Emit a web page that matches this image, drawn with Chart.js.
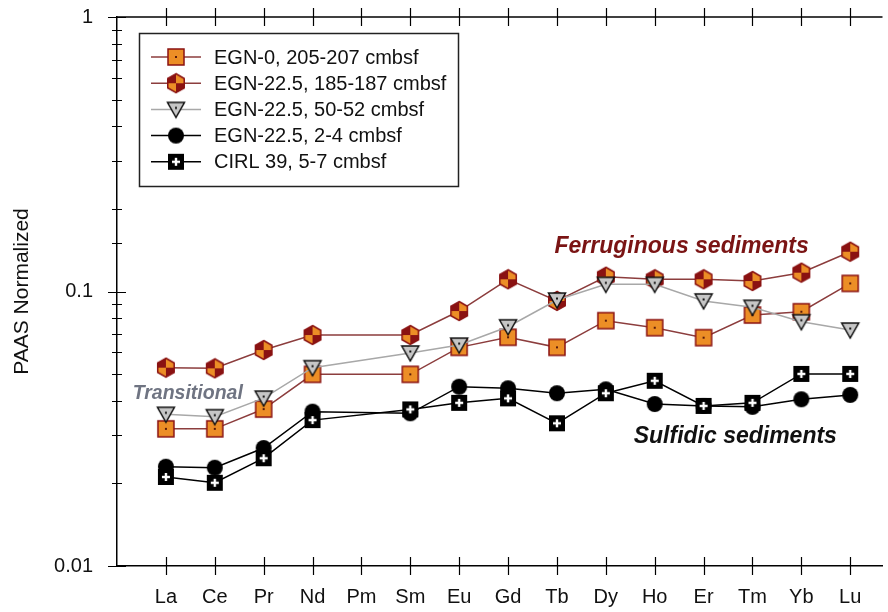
<!DOCTYPE html>
<html lang="en">
<head>
<meta charset="UTF-8">
<title>PAAS Normalized REE</title>
<script src="https://cdn.jsdelivr.net/npm/chart.js"></script>
<style>
  html, body { margin: 0; padding: 0; background: #fff; overflow: hidden; }
</style>
</head>
<body>
<canvas id="ree" width="888" height="612"></canvas>
<script>
// REE patterns, PAAS normalized (Pm has no data)
const elements = ['La', 'Ce', 'Pr', 'Nd', 'Pm', 'Sm', 'Eu', 'Gd', 'Tb', 'Dy', 'Ho', 'Er', 'Tm', 'Yb', 'Lu'];
const seriesNames = ['EGN-0, 205-207 cmbsf', 'EGN-22.5, 185-187 cmbsf', 'EGN-22.5, 50-52 cmbsf', 'EGN-22.5, 2-4 cmbsf', 'CIRL 39, 5-7 cmbsf'];
const egn0_205 = [0.0316, 0.0316, 0.0373, 0.0499, null, 0.0499, 0.0626, 0.0681, 0.0626, 0.0783, 0.0738, 0.0679, 0.0821, 0.0844, 0.107];
const egn225_185 = [0.0528, 0.0525, 0.0612, 0.0694, null, 0.0694, 0.0849, 0.1108, 0.0924, 0.1132, 0.1108, 0.1108, 0.1092, 0.1171, 0.1396];
const egn225_50 = [0.0357, 0.0350, 0.0409, 0.0528, null, 0.0597, 0.0638, 0.0744, 0.0931, 0.1062, 0.1062, 0.0924, 0.0876, 0.0776, 0.0724];
const egn225_2 = [0.0230, 0.0228, 0.0269, 0.0365, null, 0.0360, 0.0450, 0.0444, 0.0426, 0.0440, 0.0389, 0.0383, 0.0380, 0.0405, 0.0420];
const cirl39_5 = [0.0211, 0.0201, 0.0247, 0.0340, null, 0.0372, 0.0393, 0.0408, 0.0331, 0.0426, 0.0473, 0.0383, 0.0393, 0.0501, 0.0501];
const yLabels = [1, 0.1, 0.01];

const FONT = 'Arial, "Liberation Sans", sans-serif';
const ORANGE = '#ec8e26';
const DARKRED = '#8a1212';

// small canvases used as point styles
function marker(size, draw) {
  const c = document.createElement('canvas');
  c.width = size; c.height = size;
  draw(c.getContext('2d'), size / 2);
  return c;
}
const sqMark = marker(20, (g, c) => {
  g.fillStyle = ORANGE; g.fillRect(c - 8, c - 8, 16, 16);
  g.strokeStyle = DARKRED; g.lineWidth = 1.5; g.strokeRect(c - 8, c - 8, 16, 16);
  g.fillStyle = '#5a1a0a'; g.fillRect(c - 1, c - 1, 2, 2);
});
const hexMark = marker(22, (g, c) => {
  const r = 9.5;
  g.beginPath();
  for (let k = 0; k < 6; k++) {
    const a = -Math.PI / 2 + k * Math.PI / 3;
    g.lineTo(c + r * Math.cos(a), c + r * Math.sin(a));
  }
  g.closePath();
  g.save(); g.clip();
  g.fillStyle = ORANGE; g.fillRect(0, 0, 22, 22);
  g.fillStyle = DARKRED;
  g.fillRect(0, 0, c, c);
  g.fillRect(c, c, c, c);
  g.restore();
  g.strokeStyle = DARKRED; g.lineWidth = 1.5; g.stroke();
});
const triMark = marker(22, (g, c) => {
  g.beginPath();
  g.moveTo(c - 8.5, c - 7); g.lineTo(c + 8.5, c - 7); g.lineTo(c, c + 8); g.closePath();
  g.fillStyle = '#c6c6c6'; g.fill();
  g.strokeStyle = '#111'; g.lineWidth = 1.5; g.stroke();
  g.fillStyle = '#111'; g.fillRect(c - 1, c - 2.5, 2, 2);
});
const dotMark = marker(20, (g, c) => {
  g.beginPath(); g.arc(c, c, 8, 0, Math.PI * 2);
  g.fillStyle = '#000'; g.fill();
});
const crossMark = marker(20, (g, c) => {
  g.fillStyle = '#000'; g.fillRect(c - 8, c - 8, 16, 16);
  g.fillStyle = '#fff';
  g.fillRect(c - 1.2, c - 4, 2.4, 8);
  g.fillRect(c - 4, c - 1.2, 8, 2.4);
});

const styles = [
  { mark: sqMark, line: '#8c3d3d', order: 3 },
  { mark: hexMark, line: '#8c3d3d', order: 4 },
  { mark: triMark, line: '#a8a8a8', order: 1 },
  { mark: dotMark, line: '#000', order: 5 },
  { mark: crossMark, line: '#000', order: 2 }
];
const allSeries = [egn0_205, egn225_185, egn225_50, egn225_2, cirl39_5];

const datasets = allSeries.map((vals, s) => ({
  label: seriesNames[s],
  data: vals.map((v, i) => ({ x: i, y: v })),
  borderColor: styles[s].line,
  borderWidth: 1.5,
  pointStyle: styles[s].mark,
  order: styles[s].order,
  spanGaps: true,
  tension: 0
}));

const notes = [
  { text: 'Ferruginous sediments', x: 7.95, y: 0.138, color: '#7a1414', size: 23 },
  { text: 'Sulfidic sediments', x: 9.57, y: 0.0281, color: '#111', size: 23 },
  { text: 'Transitional', x: -0.68, y: 0.0406, color: '#6f7482', size: 19.5 }
];

// ticks crossing the axes, top frame line, legend and notes
const decorations = {
  id: 'decorations',
  afterDraw(chart) {
    const { ctx, chartArea: a, scales: { x, y } } = chart;
    ctx.save();
    ctx.strokeStyle = '#000';
    ctx.lineWidth = 1.5;
    ctx.beginPath(); ctx.moveTo(a.left, a.top); ctx.lineTo(a.right, a.top); ctx.stroke();

    ctx.lineWidth = 1.2;
    ctx.beginPath();
    elements.forEach((_, i) => {
      const px = Math.round(x.getPixelForValue(i)) + 0.5;
      ctx.moveTo(px, a.bottom - 9); ctx.lineTo(px, a.bottom + 9);
      ctx.moveTo(px, a.top - 9); ctx.lineTo(px, a.top + 9);
    });
    y.ticks.forEach(t => {
      const lg = Math.log10(t.value);
      const len = Math.abs(lg - Math.round(lg)) < 1e-6 ? 9 : 5;
      const py = Math.round(y.getPixelForValue(t.value)) + 0.5;
      ctx.moveTo(a.left - len, py); ctx.lineTo(a.left + len, py);
    });
    ctx.stroke();

    // legend
    ctx.lineWidth = 1.5;
    ctx.strokeStyle = '#222';
    ctx.strokeRect(139.5, 33.5, 319, 153);
    ctx.font = '20px ' + FONT;
    ctx.textBaseline = 'middle';
    ctx.textAlign = 'left';
    seriesNames.forEach((name, s) => {
      const ry = 57 + s * 26.2;
      ctx.strokeStyle = styles[s].line;
      ctx.beginPath(); ctx.moveTo(151, ry); ctx.lineTo(201, ry); ctx.stroke();
      const m = styles[s].mark;
      ctx.drawImage(m, 176 - m.width / 2, ry - m.height / 2);
      ctx.fillStyle = '#111';
      ctx.fillText(name, 214, ry + 1);
    });

    // notes
    ctx.textBaseline = 'alphabetic';
    notes.forEach(n => {
      ctx.font = 'italic bold ' + n.size + 'px ' + FONT;
      ctx.fillStyle = n.color;
      ctx.fillText(n.text, x.getPixelForValue(n.x), y.getPixelForValue(n.y));
    });
    ctx.restore();
  }
};

new Chart(document.getElementById('ree'), {
  type: 'line',
  data: { datasets },
  plugins: [decorations],
  options: {
    responsive: false,
    animation: false,
    events: [],
    layout: { padding: { top: 17, right: 0, bottom: 0, left: 0 } },
    plugins: { legend: { display: false }, tooltip: { enabled: false } },
    scales: {
      x: {
        type: 'linear',
        min: -1,
        max: 14.66,
        afterBuildTicks: s => { s.ticks = elements.map((_, i) => ({ value: i })); },
        afterFit: s => { s.height = 46; s.paddingLeft = 0; s.paddingRight = 0; },
        grid: { display: false, drawTicks: false },
        border: { display: true, color: '#000', width: 1.5 },
        ticks: {
          autoSkip: false,
          maxRotation: 0,
          padding: 19,
          color: '#111',
          font: { family: FONT, size: 20 },
          callback: v => (Number.isInteger(v) && elements[v]) ? elements[v] : ''
        }
      },
      y: {
        type: 'logarithmic',
        min: 0.01,
        max: 1,
        afterFit: s => { s.width = 117; s.paddingTop = 0; s.paddingBottom = 0; },
        grid: { display: false, drawTicks: false },
        border: { display: true, color: '#000', width: 1.5 },
        title: {
          display: true,
          text: 'PAAS Normalized',
          color: '#111',
          padding: { top: 10, bottom: 0 },
          font: { family: FONT, size: 21 }
        },
        ticks: {
          autoSkip: false,
          padding: 24,
          color: '#111',
          font: { family: FONT, size: 20 },
          callback: v => yLabels.find(l => Math.abs(l - v) < 1e-9) !== undefined ? String(v) : ''
        }
      }
    }
  }
});
</script>
</body>
</html>
